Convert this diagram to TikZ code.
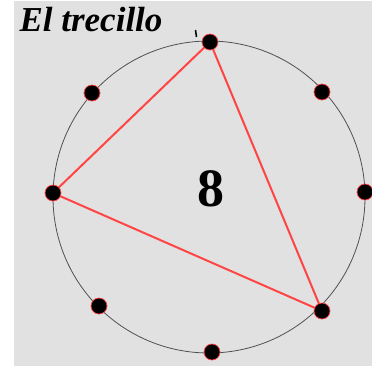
\documentclass[tikz,border=0pt]{standalone}
\usepackage{fontspec}
\setmainfont{Liberation Serif}
\definecolor{bggray}{HTML}{E1E1E1}
\definecolor{rhred}{HTML}{FF4444}
\definecolor{rimgray}{HTML}{505050}
\begin{document}
\begin{tikzpicture}[x=1pt, y=-1pt,
    beat/.style={circle, fill=black, draw=rhred, line width=0.7pt, inner sep=0pt, minimum size=16pt},
    link/.style={rhred, line width=2pt, line join=round}
]
    \useasboundingbox (0,0) rectangle (372,368);
    \fill[bggray] (14,1) rectangle (372,366);

    % rhythm circle and its eight pulses
    \coordinate (c) at (209,197);
    \draw[rimgray, line width=0.8pt] (c) circle (156pt);
    \foreach \px/\py [count=\i from 0] in {210/42, 322/92, 365/192, 322/311, 212/352, 99/306, 53/193, 92/93}
        \coordinate (p\i) at (\px,\py);

    % 3+3+2 onsets
    \draw[link] (p0) -- (p3) -- (p6) -- cycle;
    \foreach \i in {0,...,7}
        \node[beat] (d\i) at (p\i) {};

    \draw[black, line width=1.5pt] (195.5,30) -- (196.5,37);

    \node[anchor=base west, font=\bfseries\itshape\fontsize{35}{35}\selectfont] (title) at (16,31) {El trecillo};
    \node[font=\bfseries\fontsize{54}{54}\selectfont] (num) at (211,189) {8};
\end{tikzpicture}
\end{document}
